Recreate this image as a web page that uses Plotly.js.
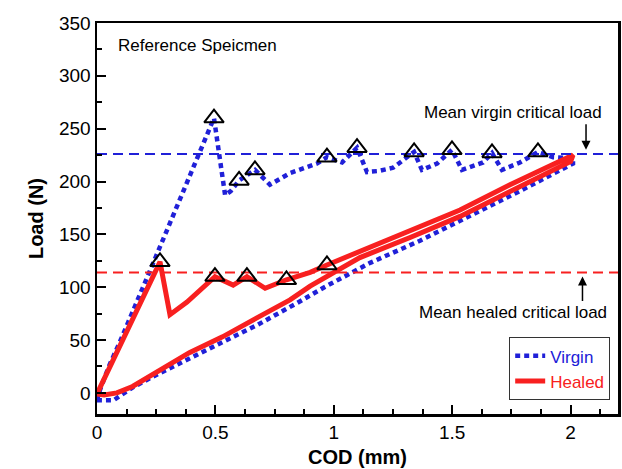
<!DOCTYPE html>
<html>
<head>
<meta charset="utf-8">
<script src="https://cdn.plot.ly/plotly-3.0.1.min.js"></script>
<style>html,body{margin:0;padding:0;background:#fff;}#chart{width:622px;height:469px;}</style>
</head>
<body>
<div id="chart"></div>
<script>
// Virgin specimen: loading, crack growth, unloading
var virginCOD  = [0, 0.013, 0.05, 0.1, 0.2, 0.3, 0.4, 0.494, 0.541, 0.565, 0.60, 0.667, 0.73, 0.815, 0.929, 0.971, 1.035, 1.098, 1.14, 1.19, 1.25, 1.339, 1.372, 1.436, 1.499, 1.541, 1.63, 1.668, 1.71, 1.786, 1.862, 1.926, 2.01,
                  2.01, 1.786, 1.56, 1.364, 1.153, 0.96, 0.845, 0.675, 0.53, 0.39, 0.25, 0.15, 0.07, 0];
var virginLoad = [-7, 3, 25, 50, 103, 156, 208, 260, 187, 191, 201, 211, 197, 208, 217, 223, 218, 232, 209, 210, 213, 228, 211, 217, 230, 211, 218, 227, 211, 218, 228, 223, 222,
                  217, 191, 166, 144, 123, 100, 85, 64, 48, 33, 17, 5, -7, -7];
// Healed specimen
var healedCOD  = [0, 0.05, 0.1, 0.18, 0.266, 0.308, 0.38, 0.498, 0.575, 0.633, 0.71, 0.80, 0.90, 0.971, 1.11, 1.322, 1.533, 1.744, 2.01,
                  2.0, 1.744, 1.533, 1.322, 1.11, 0.9, 0.815, 0.675, 0.53, 0.39, 0.25, 0.15, 0.084, 0.03, 0];
var healedLoad = [-1, 22, 46, 84, 124, 74, 86, 110, 102, 110, 99, 107, 114, 121, 134, 153, 173, 197, 225,
                  219, 191, 167, 147, 128, 101, 88, 71, 53, 38, 20, 6, 0, -2, -1];
// Critical-load markers
var virginCritCOD  = [0.494, 0.60, 0.667, 0.971, 1.098, 1.339, 1.499, 1.668, 1.862];
var virginCritLoad = [260, 201, 211, 223, 232, 228, 230, 227, 228];
var healedCritCOD  = [0.266, 0.498, 0.633, 0.80, 0.971];
var healedCritLoad = [124, 110, 110, 107, 121];
// Mean critical loads
var meanVirgin = 226;
var meanHealed = 114;
var seriesNames = ['Virgin', 'Healed'];

var BLUE = '#2020d8', RED = '#f82020';
var FONT = 'Arial, "Liberation Sans", sans-serif';

var traces = [
  {x: virginCOD, y: virginLoad, mode: 'lines', name: '<span style="color:' + BLUE + '">' + seriesNames[0] + '</span>',
   line: {color: BLUE, width: 4.5, dash: '5px,4px'}},
  {x: healedCOD, y: healedLoad, mode: 'lines', name: '<span style="color:' + RED + '">' + seriesNames[1] + '</span>',
   line: {color: RED, width: 5}},
  {x: [0, 2.2], y: [meanVirgin, meanVirgin], mode: 'lines', showlegend: false, line: {color: BLUE, width: 2, dash: '10px,6px'}},
  {x: [0, 2.2], y: [meanHealed, meanHealed], mode: 'lines', showlegend: false, line: {color: RED, width: 2, dash: '10px,6px'}},
  {x: virginCritCOD, y: virginCritLoad, mode: 'markers', showlegend: false,
   marker: {symbol: 'triangle-up-open', size: 17, color: '#000', line: {width: 2, color: '#000'}}},
  {x: healedCritCOD, y: healedCritLoad, mode: 'markers', showlegend: false,
   marker: {symbol: 'triangle-up-open', size: 17, color: '#000', line: {width: 2, color: '#000'}}}
];

var layout = {
  width: 622, height: 469,
  margin: {l: 97, r: 4, t: 23, b: 55},
  paper_bgcolor: '#fff', plot_bgcolor: '#fff',
  font: {family: FONT, color: '#000'},
  showlegend: true,
  legend: {x: 0.985, xanchor: 'right', y: 0.035, yanchor: 'bottom', bgcolor: '#fff', bordercolor: '#333', borderwidth: 1,
           font: {size: 17, family: FONT}, tracegroupgap: 0, itemwidth: 30},
  xaxis: {range: [0, 2.2], dtick: 0.5, tick0: 0, ticks: 'inside', ticklen: 9, tickwidth: 2, tickcolor: '#000',
          showline: true, linecolor: '#000', linewidth: 2.5, mirror: true, showgrid: false, zeroline: false,
          tickfont: {size: 19}, minor: {dtick: 0.125, ticks: 'inside', ticklen: 5, tickwidth: 2, tickcolor: '#000', showgrid: false},
          title: {text: '<b>COD (mm)</b>', font: {size: 20}, standoff: 8}},
  yaxis: {range: [-20, 350], dtick: 50, tick0: 0, ticks: 'inside', ticklen: 9, tickwidth: 2, tickcolor: '#000',
          showline: true, linecolor: '#000', linewidth: 2.5, mirror: true, showgrid: false, zeroline: false,
          tickfont: {size: 19}, minor: {dtick: 25, ticks: 'inside', ticklen: 5, tickwidth: 2, tickcolor: '#000', showgrid: false},
          title: {text: '<b>Load (N)</b>', font: {size: 20}, standoff: 10}},
  annotations: [
    {x: 0.08, y: 329, xref: 'x', yref: 'y', text: 'Reference Speicmen', showarrow: false, xanchor: 'left', font: {size: 17}},
    {x: 1.755, y: 265, xref: 'x', yref: 'y', text: 'Mean virgin critical load', showarrow: false, font: {size: 17}},
    {x: 2.065, y: 230, xref: 'x', yref: 'y', text: '', showarrow: true, arrowhead: 2, arrowsize: 1.2, arrowwidth: 1.5, arrowcolor: '#000', ax: 0, ay: -27},
    {x: 1.755, y: 76, xref: 'x', yref: 'y', text: 'Mean healed critical load', showarrow: false, font: {size: 17}},
    {x: 2.05, y: 110, xref: 'x', yref: 'y', text: '', showarrow: true, arrowhead: 2, arrowsize: 1.2, arrowwidth: 1.5, arrowcolor: '#000', ax: 0, ay: 26}
  ]
};

Plotly.newPlot('chart', traces, layout, {displayModeBar: false, staticPlot: true});
</script>
</body>
</html>
